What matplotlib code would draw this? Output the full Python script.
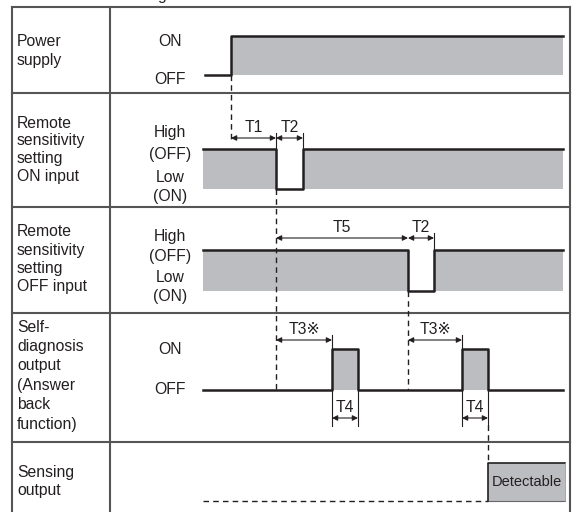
import matplotlib
matplotlib.use("Agg")
from matplotlib import pyplot as plt

plt.rcParams['font.family'] = ['Liberation Sans', 'DejaVu Sans']

# timing points (x position along the time axis)
t_begin = 203
t_end = 563
t_power_on = 231
on_input_low = (276, 303)
off_input_low = (408, 434)
answer_pulses = [(332, 358), (462, 488)]
t_detect = 488

# table rows (top, bottom) and their labels
row_edges = [7, 93, 207, 313, 442, 512]
row_labels = [
    ["Power", "supply"],
    ["Remote", "sensitivity", "setting", "ON input"],
    ["Remote", "sensitivity", "setting", "OFF input"],
    ["Self-", "diagnosis", "output", "(Answer", "back", "function)"],
    ["Sensing", "output"],
]
row_label_y = [41, 123, 232, 327, 472]
row_label_step = [20, 18, 18, 19.4, 19]

level_labels = [
    [("ON", 42), ("OFF", 80)],
    [("High", 133), ("(OFF)", 155), ("Low", 177), ("(ON)", 197)],
    [("High", 237), ("(OFF)", 257), ("Low", 277), ("(ON)", 297)],
    [("ON", 349), ("OFF", 389)],
]

# (start, end, y, text)
dims = [
    (t_power_on, on_input_low[0], 138, "T1"),
    (on_input_low[0], on_input_low[1], 138, "T2"),
    (on_input_low[0], off_input_low[0], 238, "T5"),
    (off_input_low[0], off_input_low[1], 238, "T2"),
    (on_input_low[0], answer_pulses[0][0], 340, "T3\u203b"),
    (off_input_low[0], answer_pulses[1][0], 340, "T3\u203b"),
    (answer_pulses[0][0], answer_pulses[0][1], 418, "T4"),
    (answer_pulses[1][0], answer_pulses[1][1], 418, "T4"),
]

fill_c = "#bcbdc0"
ink = "#231f20"
grid_c = "#555555"
fs = 11.3

fig = plt.figure(figsize=(5.73, 5.12), dpi=100)
ax = fig.add_axes([0, 0, 1, 1])
ax.set_xlim(0, 573)
ax.set_ylim(512, 0)
ax.axis("off")

# title (cut off at the top, as in the source)
ax.text(120, 0, "Timing chart", fontsize=fs, color=ink, ha="left", va="baseline")

# table
ax.plot([12, 12], [row_edges[0], 512], color=grid_c, lw=1.5)
ax.plot([570, 570], [row_edges[0], 512], color=grid_c, lw=1.5)
ax.plot([110, 110], [row_edges[0], 512], color=grid_c, lw=1.5)
for y in row_edges[:-1]:
    ax.plot([12, 570], [y, y], color=grid_c, lw=1.5)

for lines, y0, step in zip(row_labels, row_label_y, row_label_step):
    for i, s in enumerate(lines):
        ax.text(17, y0 + i * step, s, fontsize=fs, color=ink, va="center", ha="left")

for labs in level_labels:
    for s, y in labs:
        ax.text(170, y, s, fontsize=fs, color=ink, va="center", ha="center")

# power supply
hi, lo = 36, 75
ax.fill_between([t_power_on, t_end], hi, lo, color=fill_c, lw=0)
ax.plot([205, t_power_on, t_power_on, t_end], [lo, lo, hi, hi], color=ink, lw=1.8)

# remote ON input
hi, lo = 149, 189
a, b = on_input_low
ax.fill_between([t_begin, a], hi, lo, color=fill_c, lw=0)
ax.fill_between([b, t_end], hi, lo, color=fill_c, lw=0)
ax.plot([t_begin, a, a, b, b, t_end], [hi, hi, lo, lo, hi, hi], color=ink, lw=1.8)

# remote OFF input
hi, lo = 250, 291
a, b = off_input_low
ax.fill_between([t_begin, a], hi, lo, color=fill_c, lw=0)
ax.fill_between([b, t_end], hi, lo, color=fill_c, lw=0)
ax.plot([t_begin, a, a, b, b, t_end], [hi, hi, lo, lo, hi, hi], color=ink, lw=1.8)

# self-diagnosis output
hi, lo = 349, 390
xs, ys = [t_begin], [lo]
for a, b in answer_pulses:
    ax.fill_between([a, b], hi, lo, color=fill_c, lw=0)
    xs += [a, a, b, b]
    ys += [lo, hi, hi, lo]
xs.append(t_end)
ys.append(lo)
ax.plot(xs, ys, color=ink, lw=1.8)

# sensing output
hi, lo = 463, 501
ax.fill_between([t_detect, 565], hi, lo, color=fill_c, lw=0)
ax.plot([t_detect, t_detect, 565], [lo, hi, hi], color=ink, lw=1.2)
ax.plot([t_detect, 565], [lo, lo], color="#666666", lw=0.8)
ax.plot([565, 565], [hi, lo], color="#999999", lw=0.6)
ax.plot([t_begin, t_detect], [lo, lo], color=ink, lw=1.0, ls=(0, (4, 3)))
ax.text((t_detect + 565) / 2, 482, "Detectable", fontsize=10.5, color=ink,
        ha="center", va="center")

# dashed guides
dash = (0, (4, 3))
ax.plot([t_power_on, t_power_on], [75, 142], color=ink, lw=1.0, ls=dash)
ax.plot([on_input_low[0]] * 2, [189, 390], color=ink, lw=1.0, ls=dash)
ax.plot([off_input_low[0]] * 2, [291, 390], color=ink, lw=1.0, ls=dash)
ax.plot([t_detect] * 2, [425, 463], color=ink, lw=1.0, ls=dash)

# extension ticks
ax.plot([on_input_low[0]] * 2, [133, 149], color=ink, lw=0.8)
ax.plot([on_input_low[1]] * 2, [133, 149], color=ink, lw=0.8)
ax.plot([off_input_low[1]] * 2, [233, 250], color=ink, lw=0.8)
ax.plot([answer_pulses[0][0]] * 2, [335, 349], color=ink, lw=0.8)
ax.plot([answer_pulses[1][0]] * 2, [335, 349], color=ink, lw=0.8)
for a, b in answer_pulses:
    ax.plot([a, a], [390, 426], color=ink, lw=0.8)
    ax.plot([b, b], [390, 426], color=ink, lw=0.8)

# dimension arrows
for x0, x1, y, s in dims:
    ax.annotate("", xy=(x0, y), xytext=(x1, y),
                arrowprops=dict(arrowstyle="<|-|>", color=ink, lw=0.8,
                                mutation_scale=8, shrinkA=0, shrinkB=0))
    ax.text((x0 + x1) / 2, y - 10, s, fontsize=fs, color=ink, ha="center", va="center")

fig.savefig("out.png", dpi=100)
